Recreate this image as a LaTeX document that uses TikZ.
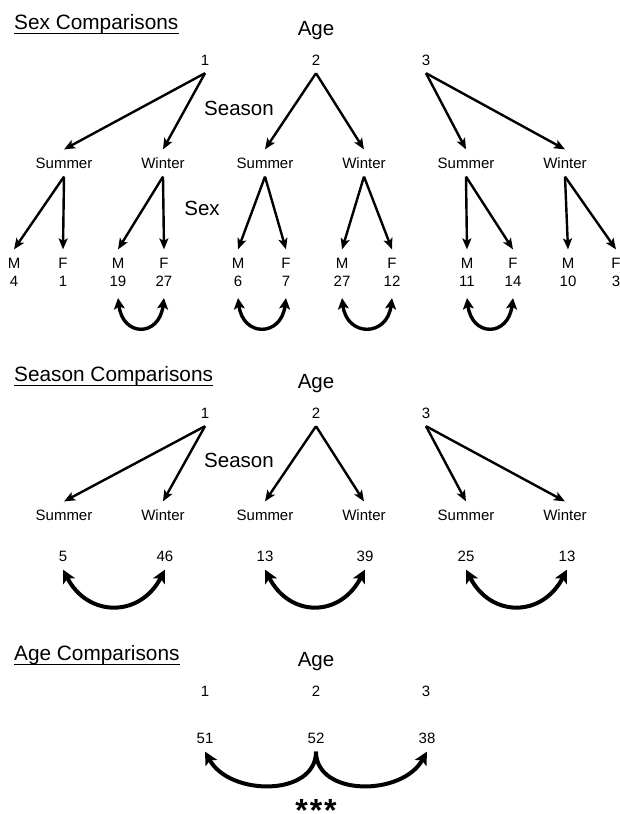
\documentclass[tikz,border=0pt]{standalone}
\usepackage{fontspec}
\setmainfont{Liberation Sans}
\usetikzlibrary{arrows.meta}
\begin{document}
\begin{tikzpicture}[x=1pt,y=-1pt,
  lab/.style={font=\fontsize{15}{18}\selectfont, inner xsep=1pt, inner ysep=8pt, text height=10.8pt, text depth=0pt},
  big/.style={font=\fontsize{20.5}{24}\selectfont, inner sep=0pt, anchor=base},
  head/.style={font=\fontsize{20.8}{24}\selectfont, inner sep=0pt, anchor=base west},
  uline/.style={line width=1.5pt},
  arr/.style={line width=2.4pt, -{Stealth[length=11pt,width=9pt,inset=2.5pt]}},
  dbl/.style={line width=3.4pt, {Stealth[length=11pt,width=11pt,inset=2.5pt]}-{Stealth[length=11pt,width=11pt,inset=2.5pt]}},
  dblw/.style={line width=4pt, {Stealth[length=13pt,width=13pt,inset=3pt]}-{Stealth[length=13pt,width=13pt,inset=3pt]}},
  onew/.style={line width=4pt, -{Stealth[length=13pt,width=13pt,inset=3pt]}}
]
\useasboundingbox (0,0) rectangle (619,814);

% ---------------- Sex Comparisons ----------------
\node[head] (h1) at (14,29) {Sex Comparisons};
\draw[uline] (h1.south west) -- (h1.south east);
\node[big] (age1) at (316,35) {Age};
\node[lab] (a11) at (205,59.6) {1};
\node[lab] (a12) at (316,59.6) {2};
\node[lab] (a13) at (426,59.6) {3};
\node[big] (sea1) at (239,115) {Season};
\node[lab] (s11) at (64,163) {Summer};
\node[lab] (w11) at (163,163) {Winter};
\node[lab] (s12) at (265,163) {Summer};
\node[lab] (w12) at (364,163) {Winter};
\node[lab] (s13) at (466,163) {Summer};
\node[lab] (w13) at (565,163) {Winter};
\draw[arr] (a11.south) -- (s11.north);
\draw[arr] (a11.south) -- (w11.north);
\draw[arr] (a12.south) -- (s12.north);
\draw[arr] (a12.south) -- (w12.north);
\draw[arr] (a13.south) -- (s13.north);
\draw[arr] (a13.south) -- (w13.north);

\node[big] (sex1) at (202,215) {Sex};
\foreach \n/\x/\t/\v in {m1/14/M/4, f1/63/F/1, m2/118/M/19, f2/164/F/27, m3/238/M/6, f3/286/F/7,
                         m4/342/M/27, f4/392/F/12, m5/467/M/11, f5/513/F/14, m6/568/M/10, f6/616/F/3}{
  \node[lab] (\n) at (\x,263) {\t};
  \node[lab] (c\n) at (\x,281) {\v};
}
\draw[arr] (s11.south) -- (m1.north);
\draw[arr] (s11.south) -- (f1.north);
\draw[arr] (w11.south) -- (m2.north);
\draw[arr] (w11.south) -- (f2.north);
\draw[arr] (s12.south) -- (m3.north);
\draw[arr] (s12.south) -- (f3.north);
\draw[arr] (w12.south) -- (m4.north);
\draw[arr] (w12.south) -- (f4.north);
\draw[arr] (s13.south) -- (m5.north);
\draw[arr] (s13.south) -- (f5.north);
\draw[arr] (w13.south) -- (m6.north);
\draw[arr] (w13.south) -- (f6.north);

\draw[dbl] ([yshift=-3.5pt]cm2.south) .. controls +(5,39) and +(-5,39) .. ([yshift=-3.5pt]cf2.south);
\draw[dbl] ([yshift=-3.5pt]cm3.south) .. controls +(5,39) and +(-5,39) .. ([yshift=-3.5pt]cf3.south);
\draw[dbl] ([yshift=-3.5pt]cm4.south) .. controls +(5,39) and +(-5,39) .. ([yshift=-3.5pt]cf4.south);
\draw[dbl] ([yshift=-3.5pt]cm5.south) .. controls +(5,39) and +(-5,39) .. ([yshift=-3.5pt]cf5.south);

% ---------------- Season Comparisons ----------------
\node[head] (h2) at (14,381) {Season Comparisons};
\draw[uline] (h2.south west) -- (h2.south east);
\node[big] (age2) at (316,388) {Age};
\node[lab] (a21) at (205,412.6) {1};
\node[lab] (a22) at (316,412.6) {2};
\node[lab] (a23) at (426,412.6) {3};
\node[big] (sea2) at (239,467) {Season};
\node[lab] (s21) at (64,515) {Summer};
\node[lab] (w21) at (163,515) {Winter};
\node[lab] (s22) at (265,515) {Summer};
\node[lab] (w22) at (364,515) {Winter};
\node[lab] (s23) at (466,515) {Summer};
\node[lab] (w23) at (565,515) {Winter};
\draw[arr] (a21.south) -- (s21.north);
\draw[arr] (a21.south) -- (w21.north);
\draw[arr] (a22.south) -- (s22.north);
\draw[arr] (a22.south) -- (w22.north);
\draw[arr] (a23.south) -- (s23.north);
\draw[arr] (a23.south) -- (w23.north);

\node[lab] (n21) at (63,556) {5};
\node[lab] (n22) at (165,556) {46};
\node[lab] (n23) at (265,556) {13};
\node[lab] (n24) at (365,556) {39};
\node[lab] (n25) at (466,556) {25};
\node[lab] (n26) at (567,556) {13};
\draw[dblw] (n21.south) .. controls +(25,48) and +(-25,48) .. (n22.south);
\draw[dblw] (n23.south) .. controls +(25,48) and +(-25,48) .. (n24.south);
\draw[dblw] (n25.south) .. controls +(25,48) and +(-25,48) .. (n26.south);

% ---------------- Age Comparisons ----------------
\node[head] (h3) at (14,660) {Age Comparisons};
\draw[uline] (h3.south west) -- (h3.south east);
\node[big] (age3) at (316,666) {Age};
\node[lab] (a31) at (205,691) {1};
\node[lab] (a32) at (316,691) {2};
\node[lab] (a33) at (426,691) {3};
\node[lab] (n31) at (205,738) {51};
\node[lab] (n32) at (316,738) {52};
\node[lab] (n33) at (427,738) {38};
\draw[onew] (n32.south) .. controls +(0,45) and +(25,45) .. (n31.south);
\draw[onew] (n32.south) .. controls +(0,45) and +(-25,45) .. (n33.south);
\node[font=\fontsize{32}{36}\bfseries\selectfont, inner sep=0pt, text depth=-12pt, anchor=north] (stars) at (316,799) {*\kern2pt*\kern2pt*};
\end{tikzpicture}
\end{document}
